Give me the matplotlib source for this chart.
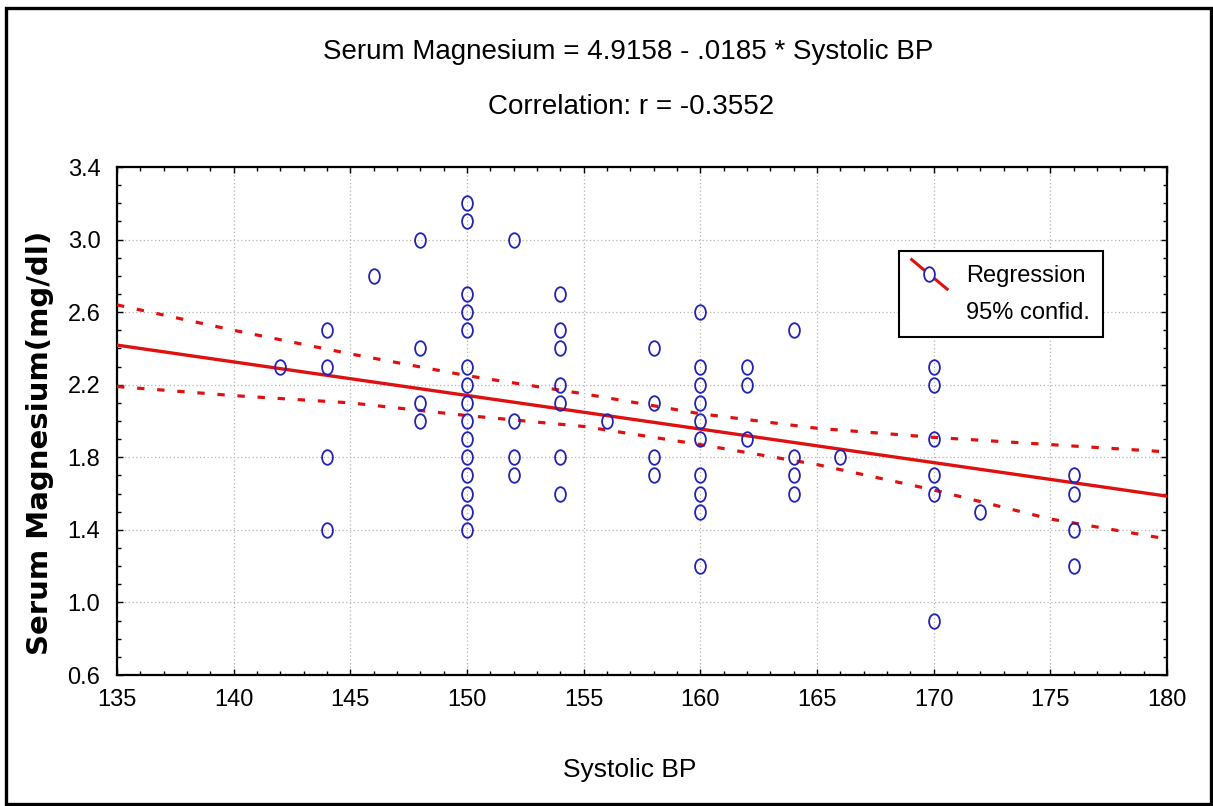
import numpy as np

import matplotlib
matplotlib.use("Agg")
import matplotlib.pyplot as plt
from matplotlib.legend_handler import HandlerBase
from matplotlib.lines import Line2D
from matplotlib.patches import Rectangle
from matplotlib.path import Path
from matplotlib.ticker import MultipleLocator
from matplotlib.transforms import Affine2D


# scatter points
SYSTOLIC_BP = (
    [142]
    + [144] * 4
    + [146]
    + [148] * 4
    + [150] * 15
    + [152] * 4
    + [154] * 7
    + [156]
    + [158] * 4
    + [160] * 10
    + [162] * 3
    + [164] * 4
    + [166]
    + [170] * 6
    + [172]
    + [176] * 4
)
SERUM_MG = [
    2.3,
    2.5, 2.3, 1.8, 1.4,
    2.8,
    3.0, 2.4, 2.1, 2.0,
    3.2, 3.1, 2.7, 2.6, 2.5, 2.3, 2.2, 2.1, 2.0, 1.9, 1.8, 1.7, 1.6, 1.5, 1.4,
    3.0, 2.0, 1.8, 1.7,
    2.7, 2.5, 2.4, 2.2, 2.1, 1.8, 1.6,
    2.0,
    2.4, 2.1, 1.8, 1.7,
    2.6, 2.3, 2.2, 2.1, 2.0, 1.9, 1.7, 1.6, 1.5, 1.2,
    2.3, 2.2, 1.9,
    2.5, 1.8, 1.7, 1.6,
    1.8,
    2.3, 2.2, 1.9, 1.7, 1.6, 0.9,
    1.5,
    1.7, 1.6, 1.4, 1.2,
]

# fit stated in the chart title
INTERCEPT = 4.9158
SLOPE = -0.0185

# 95% confidence band, read at the major x ticks
CI_X = [135, 140, 145, 150, 155, 160, 165, 170, 175, 180]
CI_UPPER = [2.64, 2.50, 2.37, 2.25, 2.15, 2.04, 1.96, 1.91, 1.87, 1.83]
CI_LOWER = [2.19, 2.14, 2.10, 2.03, 1.97, 1.87, 1.76, 1.62, 1.46, 1.35]

X_TICKS = [135, 140, 145, 150, 155, 160, 165, 170, 175, 180]
Y_TICKS = [0.6, 1.0, 1.4, 1.8, 2.2, 2.6, 3.0, 3.4]

TITLE_1 = "Serum Magnesium = 4.9158 - .0185 * Systolic BP"
TITLE_2 = "Correlation: r = -0.3552"
X_LABEL = "Systolic BP"
Y_LABEL = "Serum Magnesium(mg/dl)"
LEGEND_LABELS = ["Regression", "95% confid."]

RED = "#e01010"
BLUE = "#2222b4"
SANS = ["Liberation Sans", "DejaVu Sans"]

# tall open ellipse like the original marker
ELLIPSE = Path.unit_circle().transformed(Affine2D().scale(0.74, 1.0))


class SlantHandler(HandlerBase):
    def create_artists(self, legend, orig_handle, xdescent, ydescent,
                       width, height, fontsize, trans):
        x0, x1 = -xdescent, width - xdescent
        y0, y1 = height - ydescent + 3, -ydescent - 3
        ln = Line2D([x0, x1], [y0, y1], color=RED, lw=2.2)
        mk = Line2D([(x0 + x1) / 2], [(y0 + y1) / 2], ls="none", marker=ELLIPSE,
                    ms=10.5, mfc="white", mec=BLUE, mew=1.3)
        ln.set_transform(trans)
        mk.set_transform(trans)
        return [ln, mk]


class EmptyHandler(HandlerBase):
    def create_artists(self, legend, orig_handle, xdescent, ydescent,
                       width, height, fontsize, trans):
        blank = Line2D([], [], visible=False)
        blank.set_transform(trans)
        return [blank]


def main():
    fig = plt.figure(figsize=(12.13, 8.06), dpi=100)
    ax = fig.add_axes([0.0965, 0.1625, 0.8655, 0.6303])

    x_line = np.array([X_TICKS[0], X_TICKS[-1]], dtype=float)
    ax.plot(x_line, INTERCEPT + SLOPE * x_line, color=RED, lw=2.4, zorder=3)
    ax.plot(CI_X, CI_UPPER, color=RED, lw=2.3, ls=(0, (2.3, 4.0)), zorder=3)
    ax.plot(CI_X, CI_LOWER, color=RED, lw=2.3, ls=(0, (2.3, 4.0)), zorder=3)
    ax.plot(SYSTOLIC_BP, SERUM_MG, ls="none", marker=ELLIPSE, ms=10.5,
            mfc="none", mec=BLUE, mew=1.3, zorder=4)

    ax.set_xlim(X_TICKS[0], X_TICKS[-1])
    ax.set_ylim(Y_TICKS[0], Y_TICKS[-1])
    ax.set_xticks(X_TICKS)
    ax.set_xticklabels([str(v) for v in X_TICKS])
    ax.set_yticks(Y_TICKS)
    ax.set_yticklabels([f"{v:.1f}" for v in Y_TICKS])
    ax.xaxis.set_minor_locator(MultipleLocator(1))
    ax.yaxis.set_minor_locator(MultipleLocator(0.1))
    ax.tick_params(which="both", direction="in", top=True, right=True,
                   width=1.0, color="black")
    ax.tick_params(which="major", length=4)
    ax.tick_params(which="minor", length=3)
    ax.tick_params(axis="x", which="major", pad=10)
    ax.tick_params(axis="y", which="major", pad=12)
    for lab in ax.get_xticklabels() + ax.get_yticklabels():
        lab.set_family(SANS)
        lab.set_fontsize(17)
    for sp in ax.spines.values():
        sp.set_linewidth(1.6)
    ax.grid(True, which="major", color="#b4b4b4", lw=0.9, ls=(0, (1, 2)))
    ax.set_axisbelow(True)

    handles = [Line2D([], []), Line2D([], [])]
    leg = ax.legend(handles, LEGEND_LABELS, loc="upper right",
                    bbox_to_anchor=(0.939, 0.835), borderaxespad=0,
                    handler_map={handles[0]: SlantHandler(), handles[1]: EmptyHandler()},
                    prop={"family": SANS, "size": 17}, handlelength=1.5,
                    handleheight=1.0, handletextpad=0.8, labelspacing=0.55,
                    borderpad=0.55, fancybox=False, framealpha=1)
    leg.get_frame().set_edgecolor("black")
    leg.get_frame().set_linewidth(1.5)

    fig.text(0.518, 0.935, TITLE_1, ha="center", va="center", family=SANS, fontsize=20)
    fig.text(0.520, 0.867, TITLE_2, ha="center", va="center", family=SANS, fontsize=20)
    fig.text(0.519, 0.045, X_LABEL, ha="center", va="center", family=SANS, fontsize=19)
    fig.text(0.033, 0.45, Y_LABEL, ha="center", va="center", rotation=90,
             family="DejaVu Sans", fontsize=21, fontweight="bold")

    fig.patches.append(Rectangle((0.005, 0.002), 0.993, 0.988, transform=fig.transFigure,
                                 fill=False, edgecolor="black", lw=2.4))

    fig.savefig("out.png", dpi=100)
    plt.close(fig)


if __name__ == "__main__":
    main()
